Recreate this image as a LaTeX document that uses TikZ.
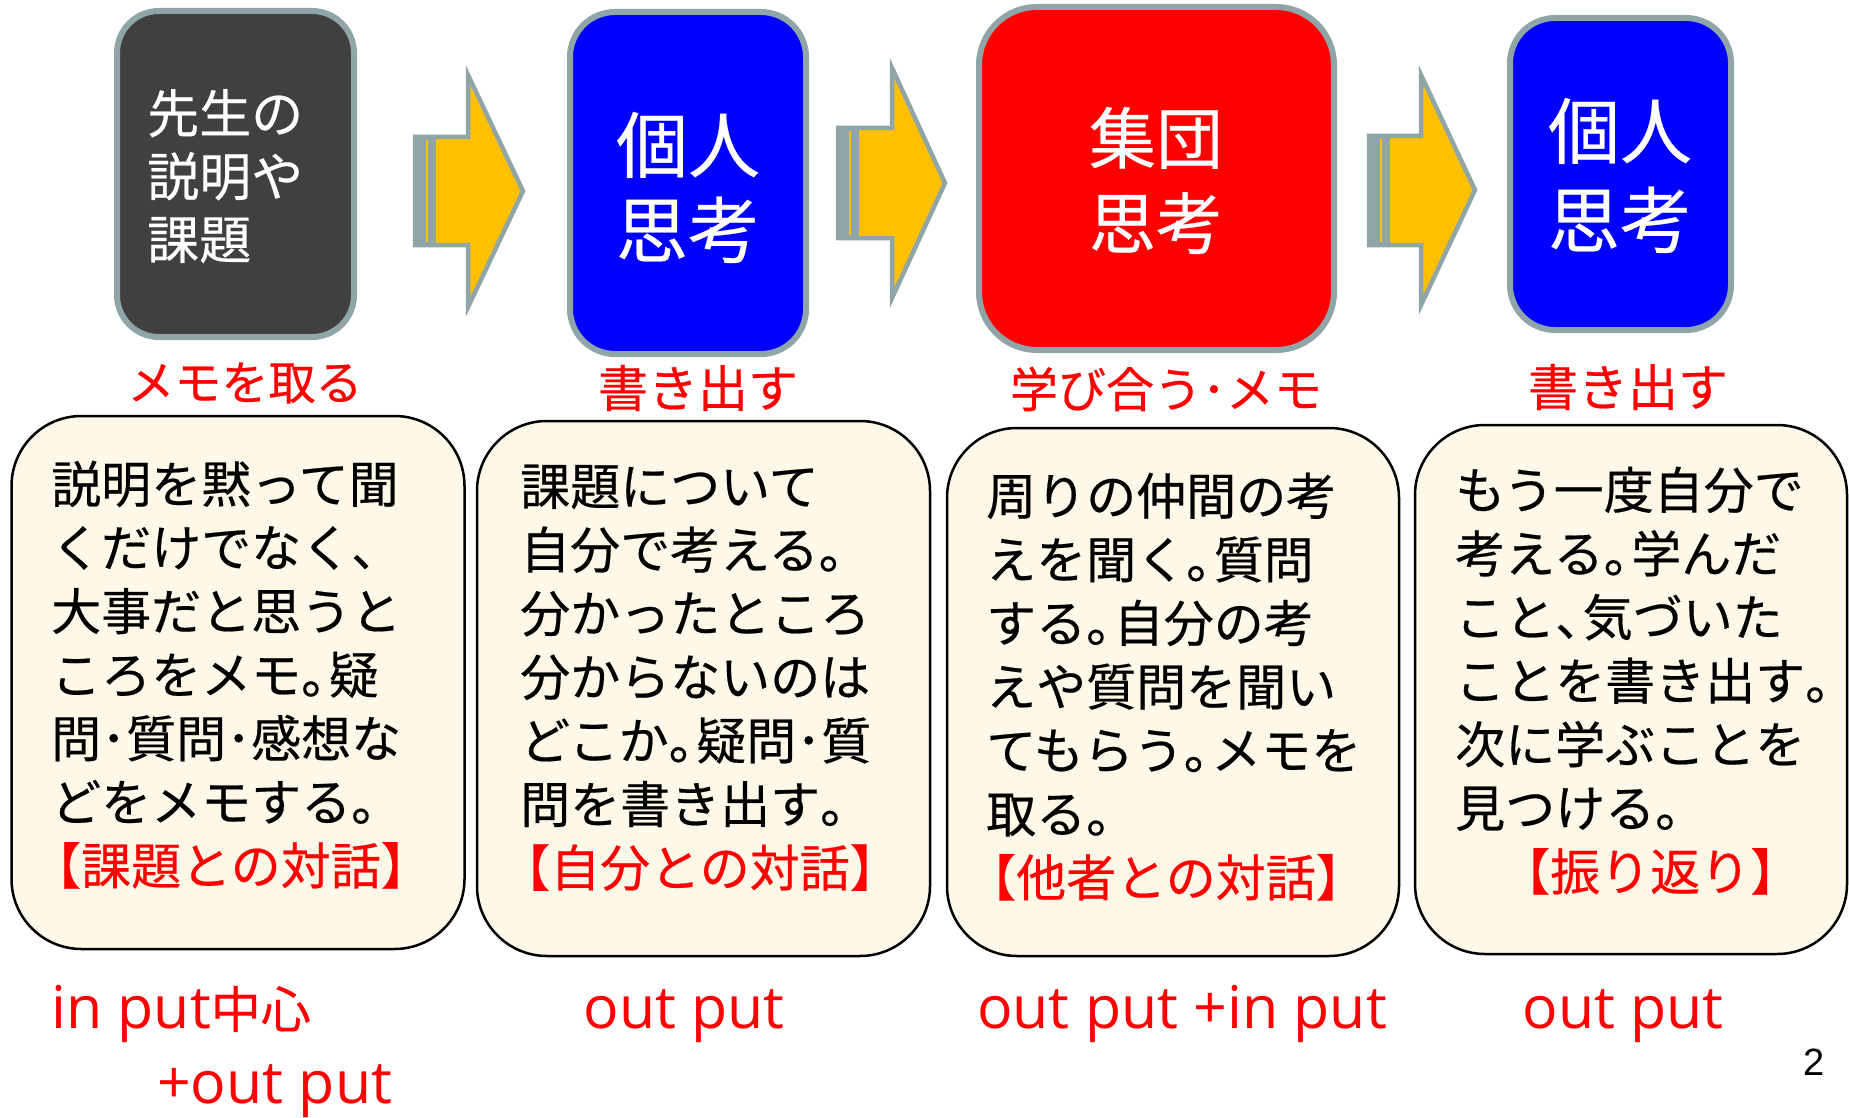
\documentclass[tikz,border=0pt]{standalone}
\usepackage{fontspec}
\setmainfont{Open Sans}
\newfontfamily\jp[FakeBold=0.4]{Noto Sans CJK JP}
\newfontfamily\pgfont{Liberation Sans}
\definecolor{boxgray}{RGB}{143,165,167}
\definecolor{arrowyellow}{RGB}{255,192,0}
\definecolor{darkfill}{RGB}{64,64,64}
\definecolor{cream}{RGB}{253,248,232}
\definecolor{pureblue}{RGB}{0,0,255}
\definecolor{purered}{RGB}{255,0,0}
\newcommand\jpku{\makebox[0.55em][l]{。}}
\newcommand\jptou{\makebox[0.55em][l]{、}}
\newcommand\jplb{\makebox[0.6em][r]{【}}
\newcommand\jprb{\makebox[0.6em][l]{】}}
\newcommand\jpfs[2]{\jp\fontsize{#1pt}{#2pt}\selectfont}
\tikzset{
  topbox/.style={draw=boxgray, line width=6pt, rounded corners=#1, inner sep=0pt},
  toptext/.style={text=white, inner sep=0pt, align=center},
  blockarrow/.style={draw=boxgray, fill=arrowyellow, line width=4.5pt, line join=miter},
  notebox/.style={draw=black, fill=cream, line width=2.5pt, rounded corners=70pt, inner sep=0pt},
  notetext/.style={anchor=north west, inner sep=0pt, align=left, font=\jpfs{50}{63.6}},
  redlabel/.style={text=purered, inner sep=0pt},
  latlabel/.style={text=purered, inner sep=0pt, font=\fontsize{59pt}{66pt}\selectfont},
}
\begin{document}
\begin{tikzpicture}[x=1pt,y=-1pt]
\useasboundingbox[fill=white] (0,0) rectangle (1849,1118);

% top boxes
\node[topbox=42pt, fill=darkfill, minimum width=237pt, minimum height=326pt] (t1) at (235.5,174) {};
\node[topbox=45pt, fill=pureblue, minimum width=236pt, minimum height=342pt] (t2) at (688,183) {};
\node[topbox=58pt, fill=purered, minimum width=355pt, minimum height=343pt] (t3) at (1156.5,178.5) {};
\node[topbox=45pt, fill=pureblue, minimum width=221pt, minimum height=312pt] (t4) at (1620.5,174) {};

\node[text=white, inner sep=0pt, align=left, anchor=north west, font=\jpfs{52}{63}] (t1txt) at (147,89) {先生の\\説明や\\課題};
\node[toptext, font=\jpfs{72}{85}] (t2txt) at (688,187.5) {個人\\思考};
\node[toptext, font=\jpfs{67}{85}] (t3txt) at (1156,180.5) {集団\\思考};
\node[toptext, font=\jpfs{72}{89}] (t4txt) at (1620,175.5) {個人\\思考};

% block arrows
\foreach \sx/\hx/\tx/\st/\sb/\ht/\hb/\ty in {415/468/523/137/245/75/307/191, 838/892/945/128/238/68/298/183, 1369/1421/1475/136/245/75/305/190}{
  \draw[blockarrow] (\sx,\st) -- (\hx,\st) -- (\hx,\ht) -- (\tx,\ty) -- (\hx,\hb) -- (\hx,\sb) -- (\sx,\sb) -- cycle;
  \fill[boxgray] (\sx-2,\st-2) rectangle (\sx+21,\sb+2);
  \draw[arrowyellow, line width=1.5pt] (\sx+12,\st+3) -- (\sx+12,\sb-3);
}

% labels under top boxes
\node[redlabel, font=\jpfs{47}{50}] (l1) at (245,383) {メモを取る};
\node[redlabel, font=\jpfs{50}{52}] (l2) at (698,388) {書き出す};
\node[redlabel, font=\jpfs{48}{50}] (l3) at (1166,389) {学び合う･メモ};
\node[redlabel, font=\jpfs{50}{52}] (l4) at (1628,387) {書き出す};

% note boxes
\node[notebox, minimum width=453pt, minimum height=533pt] (n1) at (238,682.5) {};
\node[notebox, minimum width=453pt, minimum height=535pt] (n2) at (703.5,688.5) {};
\node[notebox, minimum width=452pt, minimum height=528pt] (n3) at (1173,692) {};
\node[notebox, minimum width=432pt, minimum height=529pt] (n4) at (1631,689.5) {};

\node[notetext] (n1txt) at (51,460.5) {説明を黙って聞\\くだけでなく\jptou\\大事だと思うと\\ころをメモ\jpku 疑\\問･質問･感想な\\どをメモする\jpku\\{\color{purered}\jplb 課題との対話\jprb}};
\node[notetext] (n2txt) at (520,464.5) {課題について\\自分で考える\jpku\\分かったところ\\分からないのは\\どこか\jpku 疑問･質\\問を書き出す\jpku\\{\color{purered}\jplb 自分との対話\jprb}};
\node[notetext] (n3txt) at (986,472.5) {周りの仲間の考\\えを聞く\jpku 質問\\する\jpku 自分の考\\えや質問を聞い\\てもらう\jpku メモを\\取る\jpku\\{\color{purered}\jplb 他者との対話\jprb}};
\node[notetext] (n4txt) at (1455,466.5) {もう一度自分で\\考える\jpku 学んだ\\こと\jptou 気づいた\\ことを書き出す\jpku\\次に学ぶことを\\見つける\jpku\\{\color{purered}\hspace*{1.3em}\jplb 振り返り\jprb}};

% bottom labels
\node[latlabel, anchor=base west] (b1) at (51,1028) {in put{\jpfs{50}{56}中心}};
\node[latlabel, anchor=base west] (b1b) at (157,1103) {+out put};
\node[latlabel, anchor=base] (b2) at (684,1028) {out put};
\node[latlabel, anchor=base] (b3) at (1182,1028) {out put +in put};
\node[latlabel, anchor=base] (b4) at (1623,1028) {out put};

\node[inner sep=0pt, anchor=base west, font=\pgfont\fontsize{38pt}{40pt}\selectfont] (pg) at (1803,1075) {2};
\end{tikzpicture}
\end{document}
